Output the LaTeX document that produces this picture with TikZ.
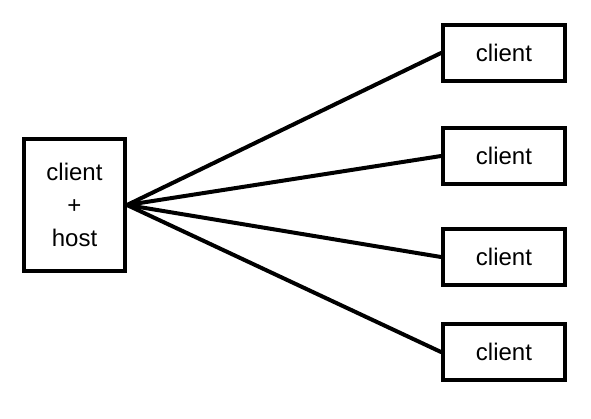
\documentclass[tikz,border=0pt]{standalone}
\usepackage{fontspec}
\setmainfont{Liberation Sans}
\usetikzlibrary{positioning}

\tikzset{
  box/.style={draw=black, line width=4pt, fill=white, font=\fontsize{24}{33}\selectfont, align=center, inner sep=0pt},
  clientbox/.style={box, minimum width=122pt, minimum height=56pt},
  link/.style={line width=4pt, line cap=round}
}

\begin{document}
\begin{tikzpicture}[x=1pt, y=-1pt]
    \useasboundingbox (0,0) rectangle (591,418);

    \node[box, minimum width=101pt, minimum height=132pt] (host) at (74.5,205) {client\\+\\host};

    \node[clientbox] (c1) at (504,53) {client};
    \node[clientbox] (c2) at (504,156) {client};
    \node[clientbox] (c3) at (504,257) {client};
    \node[clientbox] (c4) at (504,352) {client};

    % connections from host to each client
    \foreach \c in {c1,c2,c3,c4}
        \draw[link] (host.east) -- (\c.west);
\end{tikzpicture}
\end{document}
